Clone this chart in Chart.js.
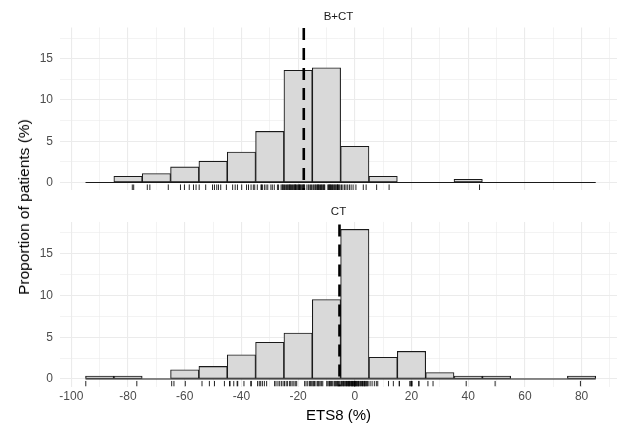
<!DOCTYPE html>
<html><head><meta charset="utf-8">
<script src="https://cdn.jsdelivr.net/npm/chart.js@4.4.0/dist/chart.umd.min.js"></script>
<style>
html,body{margin:0;padding:0;background:#fff;}
#wrap{position:relative;width:622px;height:428px;overflow:hidden;background:#fff;font-family:"Liberation Sans",Arial,sans-serif;}
#c1box{position:absolute;left:0;top:0;width:622px;height:200px;}
#c2box{position:absolute;left:0;top:200px;width:622px;height:228px;}
#ytitle{position:absolute;left:24px;top:207px;transform:translate(-50%,-50%) rotate(-90deg);white-space:nowrap;font-size:15.5px;color:#000;}
</style></head>
<body><div id="wrap">
<div id="c1box"><canvas id="c1" width="622" height="200"></canvas></div>
<div id="c2box"><canvas id="c2" width="622" height="228"></canvas></div>
<div id="ytitle">Proportion of patients (%)</div>
</div>
<script>
// ---- data ----
const binCenters = [-90,-80,-70,-60,-50,-40,-30,-20,-10,0,10,20,30,40,50,60,70,80];
const binRange = [-95, 85];
const propBCT = [0,0.77,1.1,1.9,2.6,3.7,6.2,13.6,13.9,4.4,0.77,0,0,0.4,0,0,0,0];
const propCT  = [0.36,0.36,0,1.1,1.5,2.9,4.4,5.5,9.5,17.9,2.6,3.3,0.77,0.36,0.36,0,0,0.36];
const vlineBCT = -18;
const vlineCT = -5.4;
const panelNames = ['B+CT','CT'];
const rugBCT = [
 -78.5,-78.0,
 -73.2,-72.3,-65.8,
 -61.5,-60.1,-58.4,-56.9,-56.0,
 -54.9,-52.6,-50.2,-49.5,-48.7,-48.1,-47.3,
 -45.3,-43.1,-42.2,-41.4,-39.9,-38.2,-37.5,-36.6,-35.8,-35.3,
 -34.4,-33.1,-32.6,-31.9,-31.3,-30.7,-29.6,-29.1,-28.4,-27.3,-26.9,-26.0,-25.6,-25.4,-25.2,-32.9,
 -24.8,-24.5,-24.1,-23.7,-23.5,-23.2,-22.8,-22.6,-22.3,-22.0,-21.7,-21.4,-21.2,-20.9,-20.6,-20.3,-20.0,-19.8,
 -19.5,-19.2,-19.0,-18.7,-18.4,-18.2,-17.9,-17.7,-16.9,-16.4,-16.1,-15.6,-15.3,-23.0,-21.0,-19.6,-18.0,
 -14.8,-14.5,-14.1,-13.8,-13.6,-13.2,-12.9,-12.7,-12.4,-12.1,-11.8,-11.6,-11.3,-11.0,-10.8,-10.6,-9.5,-9.3,
 -9.0,-8.7,-8.5,-8.2,-7.9,-7.7,-7.4,-7.1,-6.9,-6.6,-6.3,-6.1,-5.8,-5.5,-5.2,-13.0,-8.8,-6.0,
 -4.7,-4.2,-3.6,-3.1,-2.5,-1.9,-1.3,-0.6,0.4,3.0,4.0,
 7.7,12.1,
 44.0
];
const rugCT = [
 -94.9,
 -76.9,
 -64.6,-63.8,-59.8,
 -53.9,-51.3,-49.5,-46.0,
 -44.2,-42.7,-41.3,-39.1,-36.5,-44.0,-41.5,-36.7,
 -34.3,-33.7,-33.2,-32.6,-31.9,-31.1,-28.3,-27.8,-27.1,-26.5,-25.9,-25.3,
 -24.8,-24.2,-23.7,-23.0,-22.6,-22.1,-21.5,-21.0,-20.5,-17.7,-17.2,-16.6,-16.0,-15.6,-15.2,
 -14.8,-14.2,-13.7,-13.1,-12.6,-12.2,-11.7,-11.3,-9.9,-9.5,-9.1,-8.6,-8.2,-7.8,-7.3,-6.9,-6.5,-6.2,-5.8,-5.5,-5.2,-14.5,-12.9,-8.9,-7.0,-6.0,
 -4.8,-4.6,-4.4,-4.1,-3.9,-3.8,-3.5,-3.2,-3.0,-2.9,-2.6,-2.4,-2.1,-1.9,-1.8,-1.5,-1.2,-1.1,-0.8,-0.6,
 -0.4,-0.2,0.0,0.0,0.0,0.0,0.2,0.5,0.7,0.8,1.1,1.4,1.5,1.9,2.1,2.4,2.7,2.8,3.2,3.5,
 3.6,3.9,4.2,4.4,4.7,-2.2,-0.9,1.2,3.3,
 5.4,6.1,6.9,7.6,8.1,11.9,13.6,
 15.7,19.5,20.1,22.6,19.5,20.1,15.7,22.6,20.1,
 25.8,27.6,
 39.3,
 49.5,
 79.6
];

// ---- layout / style ----
const X_MIN = -104, X_MAX = 92.5, Y_MIN = -0.9, Y_MAX = 18.8;
const RUG_Y = -0.57;
const FONT = '"Liberation Sans", Arial, sans-serif';
const GRID = '#ebebeb';

function makePanel(id, name, props, rug, vline, isBottom){
  const xScale = {
    type:'linear', min:X_MIN, max:X_MAX, offset:false,
    border:{display:false},
    grid:{color:GRID, drawTicks:false, offset:false, lineWidth: c => (c.tick && c.tick.value % 20 === 0) ? 1.1 : 0.6},
    ticks:{display:isBottom, stepSize:10, includeBounds:false, autoSkip:false, maxRotation:0,
      padding:3, color:'#4d4d4d', font:{family:FONT, size:12},
      callback: v => (v % 20 === 0 ? String(v) : '')},
    title:{display:isBottom, text:'ETS8 (%)', color:'#000', font:{family:FONT, size:15}, padding:{top:0,bottom:3.5}},
    afterFit: s => { s.height = isBottom ? 41.5 : 10; s.paddingLeft = 0; s.paddingRight = 0; }
  };
  const yScale = {
    type:'linear', min:Y_MIN, max:Y_MAX,
    border:{display:false},
    grid:{color:GRID, drawTicks:false, lineWidth: c => (c.tick && c.tick.value % 5 === 0) ? 1.1 : 0.6},
    ticks:{stepSize:2.5, includeBounds:false, autoSkip:false, padding:7, color:'#4d4d4d',
      font:{family:FONT, size:12}, callback: v => (v % 5 === 0 ? String(v) : '')},
    afterFit: s => { s.width = 60; s.paddingTop = 0; s.paddingBottom = 0; }
  };
  return new Chart(document.getElementById(id), {
    type:'bar',
    data:{datasets:[
      {type:'line', data:[{x:vline,y:Y_MIN},{x:vline,y:Y_MAX}], borderColor:'#000', borderWidth:2.6,
       borderDash:[12,8], borderDashOffset:10, pointRadius:0, order:0},
      {type:'scatter', data:rug.map(v=>({x:v,y:RUG_Y})), pointStyle:'line', pointRotation:90, pointRadius:2.8,
       pointBorderColor:'rgba(0,0,0,0.85)', pointBorderWidth:1, pointBackgroundColor:'rgba(0,0,0,0)', order:1},
      {type:'line', data:[{x:binRange[0],y:0},{x:binRange[1],y:0}], borderColor:'#1a1a1a', borderWidth:1.1,
       pointRadius:0, order:2},
      {type:'bar', data:binCenters.map((c,i)=>({x:c,y:props[i]})), backgroundColor:'#d9d9d9',
       borderColor:'#1a1a1a', borderWidth:1.1, borderSkipped:false, barPercentage:1, categoryPercentage:1,
       grouped:false, order:3}
    ]},
    options:{
      responsive:false, animation:false, events:[],
      layout:{padding:{left:0,right:1,top:0,bottom:0}},
      scales:{x:xScale, y:yScale},
      plugins:{
        legend:{display:false}, tooltip:{enabled:false},
        title:{display:true, text:name, fullSize:false, color:'#1a1a1a', font:{family:FONT, size:11.5, weight:'normal'},
          padding: isBottom ? {top:4.5,bottom:3.6} : {top:9.5,bottom:4.1}}
      }
    }
  });
}
makePanel('c1', panelNames[0], propBCT, rugBCT, vlineBCT, false);
makePanel('c2', panelNames[1], propCT, rugCT, vlineCT, true);
</script>
</body></html>
